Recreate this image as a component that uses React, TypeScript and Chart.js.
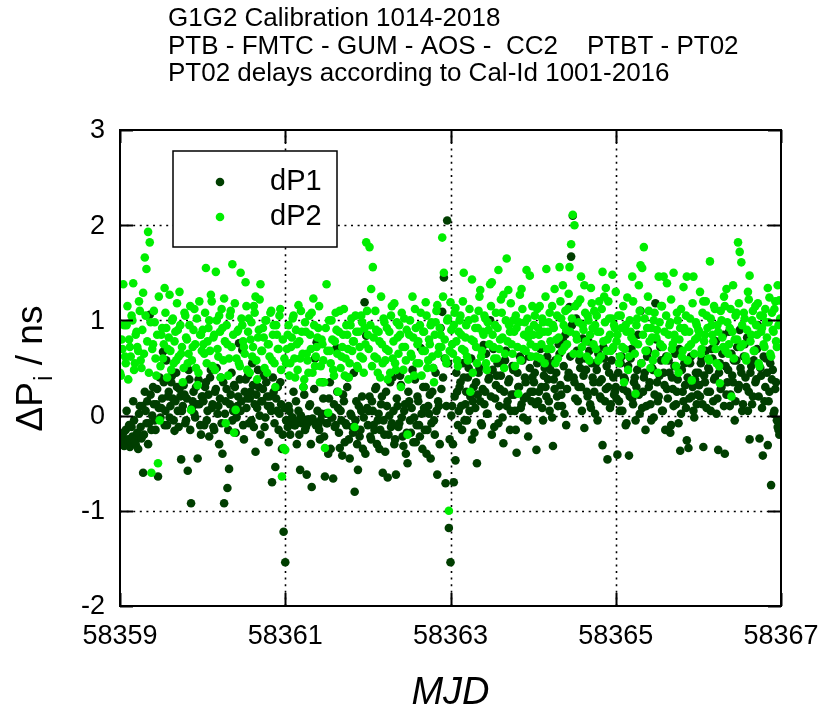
import { useEffect, useRef } from "react";
import { Chart, registerables } from "chart.js";

Chart.register(...registerables);

// ---- data ----
const MJD_START = 58359;
const SAMPLE_STEP_DAYS = 0.01; // even samples = *_a arrays, odd samples = *_b arrays
const X_TICKS = [58359, 58361, 58363, 58365, 58367];
const Y_TICKS = [-2, -1, 0, 1, 2, 3];
const TITLE_LINES = [
  "G1G2 Calibration 1014-2018",
  "PTB - FMTC - GUM - AOS -  CC2    PTBT - PT02",
  "PT02 delays according to Cal-Id 1001-2016",
];
const SERIES_NAMES = ["dP1", "dP2"];

const dP1_a = [
  -0.22,-0.28,-0.18,-0.30,0.05,-0.25,-0.33,-0.12,0.15,-0.27,-0.20,-0.35,0.10,-0.24,-0.60,0.25,-0.08,-0.30,1.06,-0.15,0.30,-0.05,0.12,-0.64,0.40,0.08,0.67,-0.10,0.58,0.20,-0.02,0.35,0.18,-0.16,0.45,0.05,0.28,-0.46,0.10,0.22,-0.05,-0.58,0.38,-0.92,0.15,0.02,0.30,-0.45,0.12,-0.20,
  0.20,-0.10,0.35,0.05,-0.22,0.48,0.12,-0.15,0.28,0.02,-0.30,0.40,-0.40,-0.92,0.15,-0.76,-0.56,0.22,-0.05,0.32,-0.18,0.10,0.76,0.05,0.69,-0.25,0.38,0.18,-0.08,0.25,0.55,-0.12,-0.38,0.08,0.30,-0.20,0.15,0.42,-0.02,0.20,-0.28,0.10,-0.70,0.25,-0.54,0.05,-0.15,0.35,-0.35,-1.22,
  -1.54,-0.05,0.10,-0.20,-0.02,0.25,-0.10,-0.30,0.05,-0.57,-0.08,0.30,-0.15,-0.62,-0.04,0.12,-0.75,-0.06,0.60,0.77,-0.10,-0.25,0.02,0.18,-0.64,-0.08,-0.40,0.35,-0.02,-0.66,-0.12,0.71,0.08,-0.34,-0.05,0.22,-0.28,-0.10,0.40,-0.45,0.00,-0.18,-0.80,0.15,-0.57,-0.22,0.05,-0.35,1.19,0.84,
  -0.10,0.20,-0.25,0.05,-0.15,0.30,-0.05,-0.35,0.12,-0.60,-0.20,0.25,-0.65,0.00,-0.12,0.40,-0.30,-0.62,0.10,-0.08,0.32,-0.22,0.05,-0.40,-0.50,0.15,-0.18,0.48,-0.02,-0.28,0.20,-0.10,0.71,-0.35,0.08,0.30,-0.15,0.02,-0.45,0.25,-0.05,0.45,-0.62,0.10,0.92,1.09,1.45,-0.71,2.05,-1.18,
  -1.54,0.10,-0.70,-0.47,0.25,0.05,0.35,-0.15,0.40,0.12,-0.05,0.50,0.20,-0.25,0.30,0.08,-0.50,0.45,0.15,-0.10,0.74,0.25,0.02,0.38,1.00,-0.20,0.70,0.18,0.42,-0.08,0.28,0.55,-0.29,0.58,0.10,0.35,-0.15,0.22,0.48,0.05,-0.39,0.30,0.62,0.12,-0.02,0.40,0.20,-0.22,0.50,0.15,
  0.25,0.45,-0.36,0.15,0.60,0.30,-0.05,0.50,0.20,0.38,0.05,0.55,-0.32,0.28,0.45,0.10,0.65,0.22,0.79,0.02,-0.10,0.40,1.14,1.67,2.10,0.35,1.02,0.15,0.58,0.30,0.81,-0.13,0.48,0.20,0.68,0.08,0.40,0.25,0.55,-0.05,0.35,0.18,-0.31,0.60,0.28,-0.46,0.45,0.12,0.70,0.22,
  0.30,-0.41,0.15,0.55,0.05,0.40,-0.10,0.25,-0.42,0.60,0.18,0.35,-0.05,0.48,0.22,1.10,0.08,0.40,-0.15,0.62,0.30,0.12,0.50,-0.02,1.18,0.35,0.20,0.72,0.05,0.45,-0.15,0.28,0.58,-0.18,0.40,0.10,0.65,0.25,-0.08,-0.37,0.48,0.15,0.32,-0.26,-0.34,0.55,0.20,0.05,0.38,0.12,
  0.45,0.20,0.60,-0.33,0.35,0.08,0.50,0.25,0.70,0.15,0.40,0.02,-0.36,0.55,0.30,0.85,-0.40,0.22,0.48,0.10,0.65,0.35,-0.05,0.58,0.28,0.90,0.45,0.12,0.75,0.30,0.05,-0.25,0.52,0.20,0.68,0.38,0.95,-0.24,0.42,-0.42,0.15,0.60,-0.31,0.25,-0.73,0.48,0.05,0.35,-0.12,-0.20,
];
const dP1_b = [
  -0.25,-0.20,-0.32,-0.15,-0.26,-0.10,-0.28,-0.22,-0.05,-0.30,-0.18,0.02,-0.12,0.10,-0.20,0.05,0.15,-0.08,0.22,0.00,0.12,-0.15,0.28,0.08,-0.02,0.18,0.35,0.05,-0.10,0.25,0.10,0.42,-0.05,0.15,0.30,-0.12,0.20,0.05,0.32,-0.08,0.18,0.48,-0.15,0.08,0.25,-0.02,0.12,0.38,-0.10,0.20,
  0.15,0.30,-0.05,0.22,0.40,0.08,-0.12,0.25,0.50,0.10,0.18,-0.08,0.35,0.02,0.28,-0.15,0.12,0.45,0.05,0.30,-0.02,0.20,0.38,0.15,-0.10,0.25,0.08,0.42,0.18,-0.05,0.32,0.12,0.22,0.48,0.00,0.15,0.28,-0.12,0.35,0.10,0.20,0.05,0.40,-0.08,0.18,0.30,0.02,0.12,-0.20,0.08,
  -0.05,-0.12,0.05,-0.08,-0.02,-0.10,0.15,-0.06,-0.20,0.00,-0.04,0.22,-0.12,-0.08,0.10,-0.30,-0.03,0.28,-0.10,0.05,-0.15,-0.05,0.35,-0.22,0.02,-0.08,0.18,-0.35,-0.02,0.12,-0.10,0.25,-0.18,0.05,-0.42,0.15,-0.08,0.30,-0.25,0.02,-0.12,0.45,-0.05,-0.30,0.10,-0.15,0.20,-0.02,-0.40,0.08,
  0.05,-0.22,0.15,-0.10,0.28,-0.30,0.02,-0.15,0.20,-0.05,-0.38,0.10,-0.20,0.35,-0.08,0.05,-0.25,0.18,-0.12,0.42,-0.02,-0.32,0.12,-0.18,0.25,-0.05,0.08,-0.28,0.38,-0.10,0.15,-0.22,0.02,0.30,-0.15,-0.40,0.10,0.22,-0.08,0.50,-0.20,0.05,0.15,-0.30,0.28,0.40,0.60,0.10,0.55,-0.25,
  0.00,-0.30,0.20,0.45,-0.10,0.30,0.10,0.55,-0.05,0.25,0.40,0.05,0.60,0.15,-0.18,0.35,0.22,0.50,-0.08,0.28,0.12,0.65,0.02,0.40,0.20,0.48,-0.12,0.32,0.55,0.10,0.42,-0.02,0.25,0.68,0.15,0.38,0.05,0.52,0.22,-0.15,0.45,0.30,0.08,0.58,0.18,0.35,-0.05,0.62,0.25,0.40,
  0.35,0.12,0.55,0.25,0.70,0.08,0.42,0.30,0.62,0.15,0.48,-0.02,0.38,0.58,0.20,0.75,0.32,0.10,0.52,0.85,0.28,0.45,0.62,0.95,0.40,0.18,0.68,0.30,0.50,0.05,0.42,0.60,0.25,0.78,0.12,0.55,0.35,0.02,0.48,0.65,0.20,0.38,0.72,0.15,0.52,0.30,0.08,0.58,0.40,0.25,
  0.18,0.45,0.05,0.62,0.28,0.38,-0.08,0.52,0.20,0.70,0.12,0.40,0.30,0.85,0.02,0.55,0.25,0.45,0.10,0.68,0.35,-0.05,0.48,0.22,0.80,0.15,0.42,0.58,0.05,0.32,0.62,0.18,0.45,-0.10,0.28,0.52,0.12,0.38,0.70,0.02,0.25,0.55,0.08,0.40,0.18,0.62,0.30,-0.02,0.45,0.22,
  0.32,0.55,0.12,0.42,0.68,0.25,0.48,0.05,0.60,0.38,0.78,0.18,0.45,0.28,0.65,0.10,0.52,0.35,0.88,0.22,0.42,0.58,0.15,0.72,0.32,0.50,0.05,0.62,0.40,0.82,0.25,0.45,0.12,0.58,0.35,0.70,0.20,0.50,0.08,0.62,0.30,0.45,0.15,0.55,0.38,0.02,0.28,-0.05,-0.15,-0.10,
];

const dP2_a = [
  0.45,0.80,1.38,0.62,0.95,0.38,0.72,1.05,1.39,0.55,0.88,0.68,1.10,0.50,1.29,1.66,1.54,1.93,1.82,-0.60,0.75,0.98,0.42,-0.50,-0.05,0.85,0.60,1.34,0.92,0.70,1.27,0.48,1.02,0.78,0.58,0.90,1.30,0.65,0.35,1.08,0.82,0.55,0.95,0.06,0.72,1.12,0.50,0.32,1.20,0.85,
  0.90,0.65,1.55,0.78,1.00,1.27,0.52,0.85,1.51,0.70,1.05,0.40,0.92,1.23,-0.08,0.75,0.60,1.10,1.59,-0.18,0.06,0.88,0.55,1.50,0.95,0.72,1.40,0.48,1.02,0.80,0.62,1.15,1.25,0.38,0.90,1.38,0.68,0.82,1.00,0.45,0.75,1.08,0.58,0.95,0.30,0.85,0.70,1.12,-0.64,-0.34,
  -0.36,0.70,0.95,0.55,0.82,1.05,0.40,0.75,1.16,0.60,0.88,0.30,0.98,0.65,0.45,0.85,1.08,1.23,0.52,0.72,0.92,0.35,0.80,0.58,-0.34,1.38,0.03,0.68,1.00,0.48,0.78,0.90,0.25,1.10,0.62,0.85,0.42,0.95,0.70,0.55,1.02,0.78,-0.12,0.88,0.50,0.72,1.05,0.60,0.92,1.82,
  0.85,1.77,1.33,1.56,0.62,0.90,0.45,0.78,1.25,0.55,0.98,0.70,0.38,0.88,1.05,0.60,1.18,0.48,0.82,0.95,0.30,0.72,1.02,0.58,-0.20,0.85,0.65,1.25,0.42,0.92,0.75,0.55,1.08,0.68,0.88,1.19,0.50,0.80,0.95,0.62,0.35,0.98,1.16,0.72,0.85,1.87,1.50,0.60,1.00,-1.00,
  1.19,0.75,0.95,1.13,0.58,0.88,1.05,0.70,1.50,0.82,0.62,1.00,0.25,1.43,0.78,0.92,0.55,1.10,1.32,0.68,0.85,1.02,0.48,0.90,1.38,1.40,0.72,0.95,0.60,1.53,0.80,1.08,1.27,0.65,1.65,1.32,0.88,0.75,1.00,0.52,0.92,0.23,1.27,1.33,0.70,0.98,1.53,0.82,1.47,0.62,
  0.85,1.05,0.62,0.92,1.15,0.75,0.98,0.55,1.54,0.88,1.08,0.70,0.95,1.33,0.80,0.60,1.56,1.02,1.37,0.72,0.90,1.12,1.56,1.80,2.11,2.00,0.85,1.18,0.65,1.46,0.95,1.37,0.78,1.05,0.58,1.34,0.92,1.10,0.70,0.88,1.20,0.62,1.51,1.25,1.34,0.80,1.02,0.68,1.48,0.95,
  1.30,0.85,0.55,1.05,0.72,0.35,0.95,1.24,0.62,0.88,1.46,0.78,0.23,1.02,1.37,1.58,1.55,1.77,0.68,0.92,1.10,0.50,0.82,1.00,0.65,0.90,1.46,0.75,1.15,1.46,0.58,1.39,0.85,0.98,0.70,1.50,0.80,1.08,0.45,0.92,0.62,1.35,0.88,1.46,0.72,1.02,0.37,1.46,0.80,0.95,
  0.90,1.30,0.70,1.20,0.85,1.05,0.60,1.62,0.95,0.78,1.12,0.55,0.88,0.34,1.00,0.72,1.15,1.33,0.65,0.92,0.20,1.37,0.80,1.08,1.82,1.72,1.61,0.75,1.02,0.58,1.30,1.47,0.85,1.10,0.68,0.95,1.18,0.52,0.88,1.05,0.72,0.98,1.34,1.24,0.62,0.90,1.12,0.78,1.37,1.21,
];
const dP2_b = [
  0.42,0.70,0.95,0.55,1.15,0.80,0.62,1.00,0.48,0.85,0.72,1.20,0.58,0.90,0.65,1.05,0.78,0.45,0.98,0.70,1.10,0.60,0.85,1.25,0.52,0.92,0.75,1.08,0.40,0.82,0.68,1.00,0.55,0.88,1.18,0.62,0.95,0.72,0.50,1.05,0.80,0.65,1.15,0.58,0.90,0.75,1.02,0.45,0.85,0.68,
  0.75,1.08,0.55,0.92,0.68,1.20,0.82,0.48,1.00,0.62,0.88,1.12,0.58,0.78,0.95,0.42,1.05,0.72,0.85,1.18,0.60,0.90,0.52,1.02,0.78,0.65,1.15,0.88,0.45,0.98,0.72,1.08,0.58,0.82,1.22,0.68,0.92,0.50,1.00,0.75,0.62,1.10,0.85,0.55,0.95,0.70,1.05,0.48,0.80,0.60,
  0.55,0.85,0.42,0.72,1.02,0.60,0.90,0.48,0.78,1.10,0.65,0.38,0.88,0.58,1.05,0.70,0.45,0.95,0.62,0.82,1.15,0.52,0.75,0.35,0.92,0.68,1.00,0.55,0.80,0.42,1.08,0.65,0.88,0.50,0.72,1.12,0.60,0.85,0.40,0.95,0.68,0.78,1.05,0.52,0.88,0.62,0.98,0.45,0.75,1.10,
  0.70,0.95,0.52,0.82,1.10,0.60,0.88,0.40,0.75,1.02,0.58,0.92,0.68,0.45,1.15,0.78,0.55,0.98,0.65,0.85,1.08,0.48,0.72,0.90,0.38,1.00,0.62,0.82,1.12,0.55,0.78,0.95,0.42,0.88,0.68,1.05,0.58,0.75,0.98,0.50,0.85,1.10,0.65,0.92,0.72,1.25,0.80,0.55,1.02,0.68,
  0.90,0.65,1.08,0.78,0.52,1.00,0.85,1.20,0.68,0.95,0.58,1.12,0.80,0.45,1.02,0.72,0.92,1.25,0.62,0.88,1.05,0.55,0.98,0.75,1.15,0.85,0.60,1.08,0.92,0.70,1.22,0.82,0.50,1.00,0.78,0.95,1.18,0.65,0.88,1.05,0.72,0.98,0.58,1.12,0.85,0.68,1.02,0.90,0.75,1.15,
  0.95,0.72,1.12,0.85,0.60,1.02,0.88,1.25,0.70,0.98,0.78,1.15,0.92,0.55,1.05,0.82,1.20,0.68,0.95,1.10,0.75,1.28,0.88,1.02,0.65,1.15,0.80,0.98,1.22,0.72,0.90,1.08,0.62,1.00,0.85,1.18,0.75,0.95,1.05,0.58,0.88,1.12,0.78,0.98,0.68,1.20,0.85,1.02,0.72,0.92,
  0.78,1.05,0.62,0.92,1.15,0.70,0.88,0.48,1.00,0.82,1.20,0.65,0.95,0.75,1.10,0.55,0.85,1.02,0.68,1.25,0.78,0.92,0.58,1.08,0.82,0.45,0.98,1.15,0.72,0.88,1.05,0.62,0.95,1.22,0.75,0.85,0.52,1.00,0.80,1.12,0.68,0.92,1.05,0.58,0.88,0.75,1.18,0.65,0.98,0.82,
  0.88,0.65,1.08,0.78,1.20,0.92,0.58,1.02,0.85,1.15,0.70,0.95,0.52,1.10,0.82,1.25,0.68,0.98,0.75,1.12,0.88,0.60,1.05,0.80,1.18,0.72,0.95,1.08,0.62,0.90,1.22,0.78,1.00,0.68,1.15,0.85,0.55,1.05,0.92,0.75,1.12,0.82,0.98,0.65,1.08,0.88,1.20,0.72,0.95,1.02,
];

// ---- styles ----
const FONT = '"Liberation Sans", Arial, Helvetica, sans-serif';
const DARK = "rgb(0,62,0)";
const LIGHT = "rgb(0,238,0)";
const W = 822;
const H = 713;

// interleave even (a) and odd (b) samples, x from the sampling grid
const toPoints = (a: number[], b: number[]) => {
  const vals: number[] = [];
  a.forEach((v, i) => {
    vals.push(v);
    if (i < b.length) vals.push(b[i]);
  });
  return vals.map((v, k) => ({ x: MJD_START + k * SAMPLE_STEP_DAYS, y: v }));
};

const gnuplotPlugin = {
  id: "gnuplotLook",
  beforeDatasetsDraw(chart: any) {
    const { ctx, chartArea: a, scales } = chart;
    const x = scales.x;
    const y = scales.y;
    ctx.save();
    ctx.strokeStyle = "#000";
    ctx.lineWidth = 1.6;
    ctx.setLineDash([2, 4.6]);
    for (const v of X_TICKS) {
      if (v === x.min || v === x.max) continue;
      const px = Math.round(x.getPixelForValue(v)) + 0.5;
      ctx.beginPath();
      ctx.moveTo(px, a.bottom);
      ctx.lineTo(px, a.top);
      ctx.stroke();
    }
    for (const v of Y_TICKS) {
      if (v === y.min || v === y.max) continue;
      const py = Math.round(y.getPixelForValue(v)) + 0.5;
      ctx.beginPath();
      ctx.moveTo(a.left, py);
      ctx.lineTo(a.right, py);
      ctx.stroke();
    }
    ctx.restore();
  },
  afterDatasetsDraw(chart: any) {
    const { ctx, chartArea: a, scales } = chart;
    const x = scales.x;
    const y = scales.y;
    ctx.save();

    // legend box (opaque)
    const lx = 173, ly = 151, lw = 164, lh = 96;
    ctx.fillStyle = "#fff";
    ctx.fillRect(lx, ly, lw, lh);
    ctx.strokeStyle = "#000";
    ctx.lineWidth = 1.5;
    ctx.setLineDash([]);
    ctx.strokeRect(lx, ly, lw, lh);
    const legendRows = [
      { name: SERIES_NAMES[0], color: DARK, cy: 182 },
      { name: SERIES_NAMES[1], color: LIGHT, cy: 217 },
    ];
    ctx.font = `29px ${FONT}`;
    ctx.textAlign = "left";
    ctx.textBaseline = "middle";
    for (const r of legendRows) {
      ctx.fillStyle = r.color;
      ctx.beginPath();
      ctx.arc(220, r.cy, 4.3, 0, Math.PI * 2);
      ctx.fill();
      ctx.fillStyle = "#000";
      ctx.fillText(r.name, 270, r.cy);
    }

    // frame
    ctx.strokeStyle = "#000";
    ctx.lineWidth = 2;
    ctx.strokeRect(a.left, a.top, a.right - a.left, a.bottom - a.top);

    // inward ticks
    const tl = 13;
    ctx.beginPath();
    for (const v of X_TICKS) {
      const px = Math.round(x.getPixelForValue(v)) + 0.5;
      ctx.moveTo(px, a.bottom);
      ctx.lineTo(px, a.bottom - tl);
      ctx.moveTo(px, a.top);
      ctx.lineTo(px, a.top + tl);
    }
    for (const v of Y_TICKS) {
      const py = Math.round(y.getPixelForValue(v)) + 0.5;
      ctx.moveTo(a.left, py);
      ctx.lineTo(a.left + tl, py);
      ctx.moveTo(a.right, py);
      ctx.lineTo(a.right - tl, py);
    }
    ctx.stroke();

    // tick labels
    ctx.fillStyle = "#000";
    ctx.font = `27px ${FONT}`;
    ctx.textAlign = "center";
    ctx.textBaseline = "middle";
    for (const v of X_TICKS) {
      ctx.fillText(String(v), x.getPixelForValue(v), 637);
    }
    ctx.textAlign = "right";
    for (const v of Y_TICKS) {
      ctx.fillText(String(v), 105, y.getPixelForValue(v) + 1);
    }

    // x axis title
    ctx.font = `italic 38px ${FONT}`;
    ctx.textAlign = "center";
    ctx.textBaseline = "alphabetic";
    ctx.fillText("MJD", (a.left + a.right) / 2, 704);

    // y axis title with subscript
    ctx.save();
    ctx.translate(42, 369);
    ctx.rotate(-Math.PI / 2);
    const mainF = `37px ${FONT}`;
    const subF = `25px ${FONT}`;
    ctx.font = mainF;
    const w1 = ctx.measureText("\u0394P").width;
    const w3 = ctx.measureText(" / ns").width;
    ctx.font = subF;
    const w2 = ctx.measureText("i").width;
    const start = -(w1 + w2 + w3) / 2;
    ctx.textAlign = "left";
    ctx.font = mainF;
    ctx.fillText("\u0394P", start, 0);
    ctx.font = subF;
    ctx.fillText("i", start + w1 + 1, 10);
    ctx.font = mainF;
    ctx.fillText(" / ns", start + w1 + w2 + 1, 0);
    ctx.restore();

    // title lines
    ctx.font = `26px ${FONT}`;
    ctx.textAlign = "left";
    ctx.textBaseline = "alphabetic";
    const baselines = [26, 54, 81];
    TITLE_LINES.forEach((t, i) => ctx.fillText(t, 168, baselines[i]));

    ctx.restore();
  },
};

export default function App() {
  const ref = useRef<HTMLCanvasElement | null>(null);

  useEffect(() => {
    document.body.style.margin = "0";
    const canvas = ref.current;
    if (!canvas) return;
    const chart = new Chart(canvas, {
      type: "scatter",
      data: {
        datasets: [
          {
            label: SERIES_NAMES[0],
            data: toPoints(dP1_a, dP1_b),
            backgroundColor: DARK,
            borderWidth: 0,
            pointRadius: 4.3,
            order: 1,
          },
          {
            label: SERIES_NAMES[1],
            data: toPoints(dP2_a, dP2_b),
            backgroundColor: LIGHT,
            borderWidth: 0,
            pointRadius: 4.3,
            order: 0,
          },
        ],
      },
      options: {
        animation: false,
        responsive: false,
        devicePixelRatio: 1,
        layout: { padding: { left: 120, right: 41, top: 130, bottom: 107 } },
        plugins: {
          legend: { display: false },
          tooltip: { enabled: false },
          title: { display: false },
        },
        scales: {
          x: { type: "linear", min: 58359, max: 58367, display: false },
          y: { type: "linear", min: -2, max: 3, display: false },
        },
      },
      plugins: [gnuplotPlugin],
    });
    return () => chart.destroy();
  }, []);

  return (
    <div style={{ width: W, height: H, position: "relative", background: "#fff" }}>
      <canvas ref={ref} width={W} height={H} style={{ display: "block", width: W, height: H }} />
    </div>
  );
}
